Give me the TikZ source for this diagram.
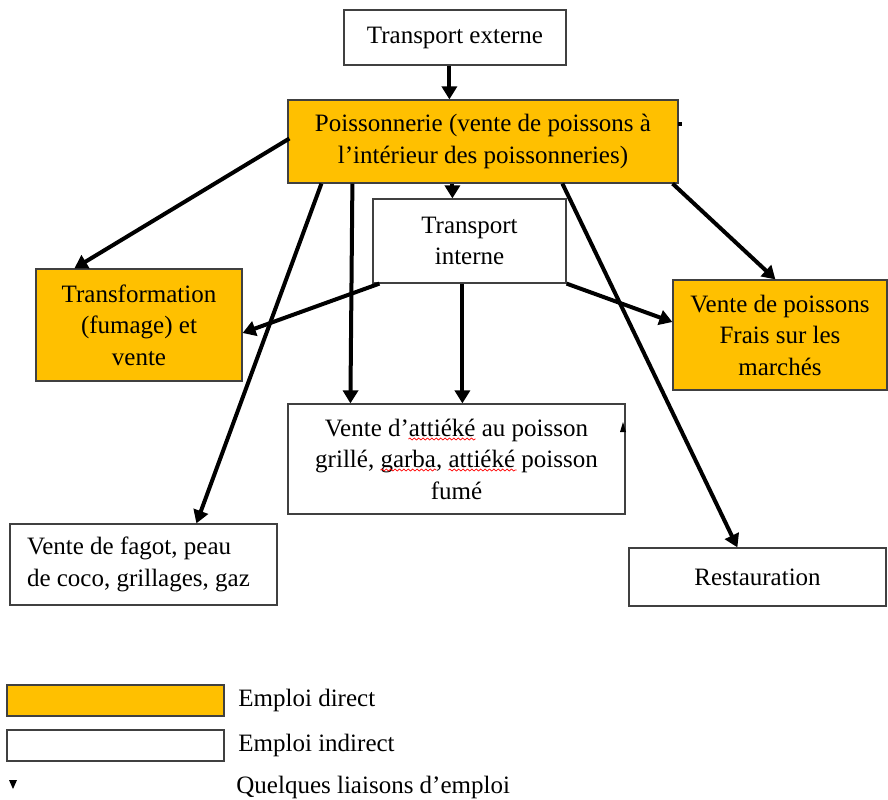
\documentclass[tikz,border=0pt]{standalone}
\usepackage{fontspec}
\setmainfont{Liberation Serif}
\usetikzlibrary{arrows.meta,calc,decorations.pathmorphing}
\definecolor{emploiorange}{HTML}{FFC000}
\begin{document}
\begin{tikzpicture}[x=0.5pt, y=-0.5pt,
  every node/.style={font=\fontsize{12.5}{15.75}\selectfont, inner sep=0pt},
  box/.style={rectangle, draw=black!75, line width=0.6pt, fill=white, align=center},
  direct/.style={box, fill=emploiorange},
  arr/.style={line width=2pt, -{Triangle[length=6.5pt,width=7.5pt]}},
  squig/.style={draw=red, line width=0.35pt, decorate, decoration={snake, segment length=2.2pt, amplitude=0.5pt}}]
\useasboundingbox (0,0) rectangle (888,799);
\node[box, minimum width=111pt, minimum height=27.5pt] (ext) at (455,37.5) {Transport externe};
\node[direct, minimum width=195pt, minimum height=41.5pt] (poiss) at (483,141.5) {Poissonnerie (vente de poissons à\\l’intérieur des poissonneries)};
\node[box, minimum width=96.5pt, minimum height=42pt] (intern) at (469.5,241) {Transport\\interne};
\node[direct, minimum width=103pt, minimum height=56pt] (transf) at (139,325) {Transformation\\(fumage) et\\vente};
\node[direct, minimum width=107pt, minimum height=55pt] (frais) at (780,335) {Vente de poissons\\Frais sur les\\marchés};
\node[box, minimum width=168.5pt, minimum height=55pt] (attieke) at (456.5,459) {Vente d’attiéké au poisson\\grillé, garba, attiéké poisson\\fumé};
\node[box, align=flush left, text width=116.5pt, inner xsep=8.5pt, minimum height=40.5pt] (fagot) at (143.5,564.5) {Vente de fagot, peau\\de coco, grillages, gaz};
\node[box, minimum width=128.5pt, minimum height=29pt] (resto) at (757.5,577) {Restauration};
% soulignements rouges
\path[squig] ($(attieke.center)+(-48,-20)$) -- ($(attieke.center)+(19,-20)$);
\path[squig] ($(attieke.center)+(-76,11)$) -- ($(attieke.center)+(-20,11)$);
\path[squig] ($(attieke.center)+(-8,11)$) -- ($(attieke.center)+(60,11)$);
% legende
\node[direct, minimum width=108.5pt, minimum height=15.5pt] (legdirect) at (115.5,700.5) {};
\node[box, minimum width=108.5pt, minimum height=15.5pt] (legindirect) at (115.5,745.5) {};
\node[anchor=west] (txtdirect) at (238,700) {Emploi direct};
\node[anchor=west] (txtindirect) at (238,745) {Emploi indirect};
\node[anchor=west] (txtliaison) at (236,787) {Quelques liaisons d’emploi};
\fill (9,780) -- (17,780) -- (13,789) -- cycle;
% liaisons
\draw[arr] ($(ext.south west)+(106,0)$) -- ($(poiss.north west)+(162,0)$);
\draw[arr] ($(poiss.west)+(2,-3)$) -- ($(transf.north west)+(39,0)$);
\draw[arr] ($(poiss.south west)+(165,0)$) -- ($(intern.north west)+(80,0)$);
\draw[arr] ($(poiss.south west)+(34,0)$) -- ($(fagot.north west)+(187,0)$);
\draw[arr] ($(poiss.south west)+(65,0)$) -- ($(attieke.north west)+(63,0)$);
\draw[arr] ($(poiss.south west)+(275,0)$) -- ($(resto.north west)+(109,0)$);
\draw[arr] ($(poiss.south east)+(-6,0)$) -- ($(frais.north west)+(103,0)$);
\draw[arr] ($(intern.south west)+(90,0)$) -- ($(attieke.north west)+(175,0)$);
\draw[arr] ($(intern.south west)+(7,0)$) -- ($(transf.east)+(0,8)$);
\draw[arr] (intern.south east) -- ($(frais.west)+(0,-13)$);
% petites marques
\fill ($(poiss.east)+(-1,-20)$) rectangle ($(poiss.east)+(3,-16)$);
\fill (620,432) -- (626,432) -- (623,422) -- cycle;
\end{tikzpicture}
\end{document}
